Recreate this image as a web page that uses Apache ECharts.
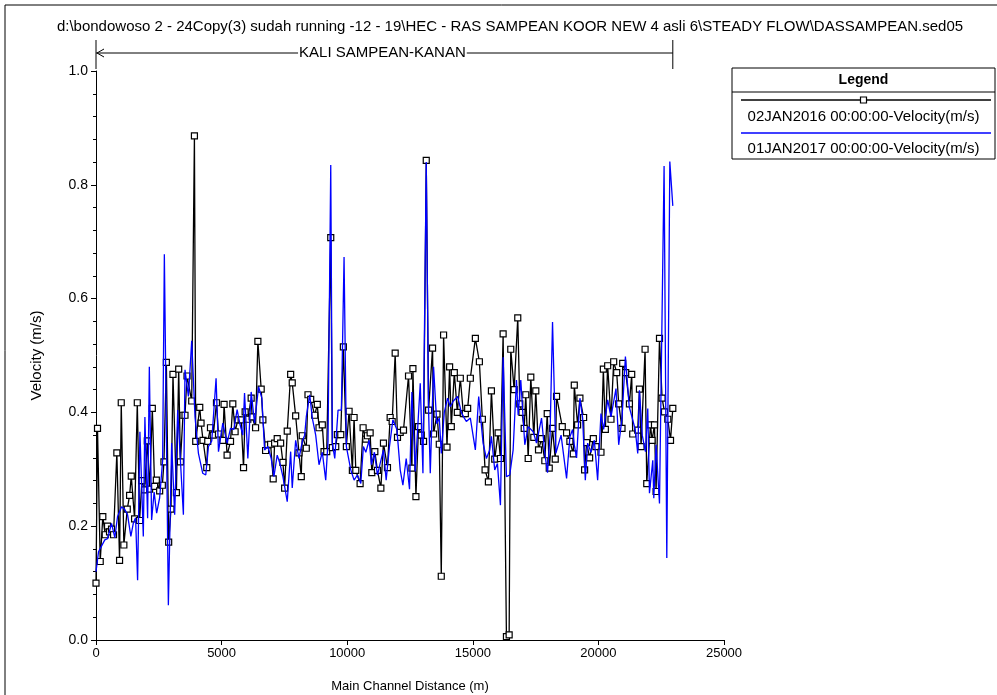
<!DOCTYPE html>
<html>
<head>
<meta charset="utf-8">
<script src="https://cdn.jsdelivr.net/npm/echarts@6/dist/echarts.min.js"></script>
<style>
  html, body { margin: 0; padding: 0; background: #fff; }
  #chart { width: 997px; height: 695px; }
</style>
</head>
<body>
<div id="chart"></div>
<script>
// Main channel distance (m) and velocity (m/s) for the two profiles
const distBlack = [0,60,168,271,367,459,538,618,698,830,938,1005,1109,1245,1337,1404,1536,1644,1736,1827,1935,2043,2135,2242,2334,2402,2534,2641,2705,2801,2893,2985,3064,3200,3292,3360,3463,3543,3623,3810,3918,3970,4130,4182,4261,4409,4449,4557,4668,4796,4876,5047,5099,5219,5355,5446,5538,5646,5778,5873,5937,6045,6177,6216,6352,6444,6576,6643,6751,6843,6951,7054,7110,7214,7350,7441,7509,7613,7749,7812,7948,8080,8172,8211,8371,8439,8547,8706,8810,8878,9009,9077,9185,9345,9408,9544,9608,9744,9847,9967,10075,10206,10274,10342,10514,10633,10741,10805,10913,10980,11100,11204,11340,11443,11603,11710,11790,11910,12002,12110,12241,12441,12576,12616,12736,12840,12947,13039,13147,13239,13398,13438,13574,13666,13745,13837,13973,14077,14144,14264,14384,14503,14623,14703,14795,14902,15102,15262,15381,15489,15621,15741,15873,16008,16100,16207,16339,16447,16511,16646,16790,16870,16958,17046,17109,17205,17309,17429,17508,17616,17736,17867,17963,18043,18174,18282,18334,18561,18733,18865,19000,19040,19172,19264,19411,19451,19531,19651,19798,19902,20102,20197,20277,20369,20501,20608,20728,20808,20940,20967,21087,21235,21326,21366,21566,21634,21698,21858,21925,22073,22137,22232,22296,22432,22535,22631,22763,22871,22962];
const velBlack = [0.100,0.372,0.138,0.217,0.185,0.200,0.190,0.195,0.185,0.329,0.140,0.417,0.167,0.230,0.254,0.288,0.213,0.417,0.210,0.280,0.264,0.350,0.265,0.407,0.270,0.281,0.262,0.272,0.313,0.488,0.172,0.230,0.467,0.259,0.476,0.313,0.395,0.395,0.464,0.420,0.886,0.349,0.409,0.381,0.351,0.303,0.349,0.373,0.360,0.417,0.362,0.351,0.414,0.325,0.349,0.415,0.366,0.387,0.387,0.303,0.401,0.388,0.425,0.392,0.373,0.525,0.441,0.387,0.333,0.343,0.344,0.283,0.346,0.354,0.346,0.312,0.267,0.367,0.467,0.452,0.394,0.329,0.287,0.359,0.337,0.431,0.423,0.395,0.414,0.373,0.378,0.331,0.331,0.707,0.338,0.340,0.361,0.361,0.515,0.340,0.402,0.298,0.391,0.298,0.275,0.373,0.353,0.359,0.364,0.294,0.331,0.298,0.267,0.346,0.303,0.391,0.384,0.504,0.356,0.365,0.369,0.464,0.302,0.477,0.252,0.375,0.360,0.349,0.843,0.404,0.513,0.362,0.397,0.344,0.112,0.536,0.339,0.480,0.375,0.470,0.400,0.460,0.398,0.398,0.407,0.460,0.530,0.489,0.388,0.299,0.278,0.438,0.318,0.364,0.319,0.538,0.006,0.009,0.511,0.440,0.566,0.415,0.400,0.372,0.431,0.319,0.462,0.356,0.438,0.334,0.354,0.315,0.398,0.302,0.372,0.318,0.428,0.375,0.364,0.349,0.327,0.448,0.378,0.425,0.391,0.299,0.347,0.320,0.354,0.340,0.330,0.476,0.370,0.482,0.388,0.489,0.470,0.415,0.372,0.486,0.470,0.415,0.467,0.362,0.369,0.441,0.340,0.511,0.275,0.378,0.351,0.378,0.261,0.530,0.425,0.401,0.388,0.351,0.407];

const distBlue = [0,100,219,351,459,538,618,750,858,1017,1137,1257,1388,1484,1576,1656,1748,1883,1947,2055,2123,2214,2314,2414,2534,2653,2721,2881,3012,3132,3252,3411,3479,3543,3679,3810,3942,4078,4249,4369,4477,4608,4780,4876,5047,5219,5355,5486,5618,5726,5845,5913,6045,6177,6312,6472,6603,6711,6843,6975,7082,7214,7322,7441,7613,7749,7812,7948,8080,8219,8307,8371,8507,8611,8746,8878,9009,9145,9237,9345,9408,9505,9636,9768,9875,9967,10142,10274,10406,10541,10645,10741,10873,10964,11084,11204,11311,11443,11551,11683,11818,11978,12110,12217,12349,12481,12576,12708,12908,13015,13147,13239,13307,13438,13566,13666,13745,13865,13997,14104,14224,14396,14543,14663,14743,14902,15102,15234,15409,15541,15673,15741,15873,15981,16100,16207,16339,16471,16606,16738,16806,16910,17070,17205,17405,17536,17736,17867,17975,18075,18174,18306,18514,18733,18865,18972,19040,19132,19264,19372,19479,19571,19703,19838,19970,20102,20209,20369,20501,20700,20808,20940,21075,21227,21366,21466,21566,21634,21745,21873,21965,22033,22165,22205,22296,22432,22615,22723,22843,22962];
const velBlue = [0.120,0.155,0.165,0.176,0.178,0.175,0.205,0.180,0.217,0.234,0.230,0.220,0.182,0.205,0.215,0.105,0.366,0.182,0.392,0.214,0.480,0.211,0.260,0.223,0.250,0.316,0.678,0.061,0.346,0.220,0.404,0.275,0.220,0.475,0.428,0.526,0.392,0.328,0.293,0.290,0.340,0.350,0.460,0.331,0.381,0.346,0.372,0.370,0.405,0.380,0.360,0.434,0.319,0.436,0.381,0.445,0.425,0.334,0.340,0.319,0.287,0.325,0.310,0.287,0.243,0.331,0.267,0.351,0.319,0.350,0.360,0.392,0.431,0.390,0.360,0.308,0.330,0.281,0.350,0.835,0.346,0.319,0.404,0.404,0.673,0.340,0.299,0.281,0.290,0.275,0.340,0.330,0.351,0.308,0.330,0.290,0.310,0.334,0.281,0.340,0.387,0.370,0.299,0.272,0.319,0.265,0.436,0.296,0.451,0.293,0.840,0.404,0.293,0.480,0.380,0.390,0.328,0.400,0.425,0.410,0.420,0.428,0.400,0.390,0.384,0.390,0.334,0.428,0.346,0.319,0.334,0.358,0.299,0.310,0.237,0.497,0.287,0.290,0.334,0.457,0.395,0.457,0.343,0.375,0.366,0.346,0.390,0.328,0.294,0.360,0.559,0.328,0.360,0.284,0.357,0.370,0.343,0.320,0.425,0.390,0.281,0.346,0.330,0.351,0.281,0.398,0.370,0.422,0.392,0.442,0.343,0.390,0.498,0.410,0.387,0.370,0.328,0.439,0.360,0.331,0.407,0.258,0.316,0.249,0.343,0.240,0.833,0.144,0.841,0.763];

const seriesNames = ['02JAN2016 00:00:00-Velocity(m/s)', '01JAN2017 00:00:00-Velocity(m/s)'];
const reachName = 'KALI SAMPEAN-KANAN';
const fileTitle = 'd:\\bondowoso 2 - 24Copy(3) sudah running -12 - 19\\HEC - RAS SAMPEAN KOOR NEW 4 asli 6\\STEADY FLOW\\DASSAMPEAN.sed05';
const xAxisName = 'Main Channel Distance (m)';
const yAxisName = 'Velocity (m/s)';
const xMin = 0, xMax = 25000, xStep = 5000;
const yMin = 0, yMax = 1.0, yStep = 0.2;

const FONT = '"Liberation Sans", Arial, sans-serif';
const pairs = (xs, ys) => xs.map((x, i) => [x, ys[i]]);

const chart = echarts.init(document.getElementById('chart'), null, { renderer: 'canvas' });

const axisCommon = {
  axisLine: { show: true, lineStyle: { color: '#000', width: 1 } },
  axisTick: { show: true, inside: false, length: 5, lineStyle: { color: '#000' } },
  splitLine: { show: false }
};

chart.setOption({
  animation: false,
  backgroundColor: '#fff',
  grid: { left: 96, right: 273, top: 71, bottom: 55, outerBoundsMode: 'none', containLabel: false },
  xAxis: Object.assign({}, axisCommon, {
    type: 'value', min: xMin, max: xMax, interval: xStep,
    name: xAxisName, nameLocation: 'middle', nameGap: 40,
    nameTextStyle: { color: '#000', fontFamily: FONT, fontSize: 13 },
    axisLabel: { color: '#000', fontFamily: FONT, fontSize: 13, margin: 7,
      formatter: v => String(v) }
  }),
  yAxis: Object.assign({}, axisCommon, {
    type: 'value', min: yMin, max: yMax, interval: yStep,
    name: yAxisName, nameLocation: 'middle', nameGap: 52,
    nameTextStyle: { color: '#000', fontFamily: FONT, fontSize: 15 },
    minorTick: { show: true, splitNumber: 5, length: 3, lineStyle: { color: '#000' } },
    axisLabel: { color: '#000', fontFamily: FONT, fontSize: 14, margin: 8,
      formatter: v => v.toFixed(1) }
  }),
  series: [
    {
      name: seriesNames[0], type: 'line', data: pairs(distBlack, velBlack),
      symbol: 'rect', symbolSize: 6, showAllSymbol: true,
      lineStyle: { color: '#000', width: 1.3 },
      itemStyle: { color: '#fff', borderColor: '#000', borderWidth: 1.2 },
      z: 2
    },
    {
      name: seriesNames[1], type: 'line', data: pairs(distBlue, velBlue),
      showSymbol: false, symbol: 'none',
      lineStyle: { color: '#0000ff', width: 1.3 },
      z: 3
    }
  ]
});

// Reach annotation and legend box, placed from the axis scale
const xLeft = chart.convertToPixel({ xAxisIndex: 0 }, distBlack[0]);
const xRight = chart.convertToPixel({ xAxisIndex: 0 }, distBlack[distBlack.length - 1]);
const reachY = 53;
const lg = { x: 732, y: 68, w: 263, h: 91 };

chart.setOption({
  graphic: [
    { type: 'rect', shape: { x: 5, y: 5, width: 1200, height: 900 }, style: { fill: 'none', stroke: '#000', lineWidth: 1 }, silent: true },
    { type: 'text', x: 510, y: 27, style: { text: fileTitle, font: '15px ' + FONT, fill: '#000', align: 'center', verticalAlign: 'middle' } },
    { type: 'line', shape: { x1: xLeft, y1: 40, x2: xLeft, y2: 69 }, style: { stroke: '#000', lineWidth: 1 } },
    { type: 'line', shape: { x1: xRight, y1: 40, x2: xRight, y2: 69 }, style: { stroke: '#000', lineWidth: 1 } },
    { type: 'line', shape: { x1: xLeft, y1: reachY, x2: xRight, y2: reachY }, style: { stroke: '#000', lineWidth: 1 } },
    { type: 'polyline', shape: { points: [[xLeft + 8, reachY - 4], [xLeft + 1, reachY], [xLeft + 8, reachY + 4]] }, style: { stroke: '#000', fill: 'none', lineWidth: 1 } },
    { type: 'text', x: (xLeft + xRight) / 2 - 2, y: reachY, z: 10, style: { text: reachName, font: '15px ' + FONT, fill: '#000', align: 'center', verticalAlign: 'middle', backgroundColor: '#fff', padding: [0, 1] } },
    // legend
    { type: 'rect', shape: { x: lg.x, y: lg.y, width: lg.w, height: lg.h }, style: { fill: '#fff', stroke: '#000', lineWidth: 1 } },
    { type: 'text', x: lg.x + lg.w / 2, y: lg.y + 12, style: { text: 'Legend', font: 'bold 14px ' + FONT, fill: '#000', align: 'center', verticalAlign: 'middle' } },
    { type: 'line', shape: { x1: lg.x, y1: lg.y + 24, x2: lg.x + lg.w, y2: lg.y + 24 }, style: { stroke: '#000', lineWidth: 1 } },
    { type: 'line', shape: { x1: lg.x + 9, y1: lg.y + 32, x2: lg.x + lg.w - 4, y2: lg.y + 32 }, style: { stroke: '#000', lineWidth: 1.3 } },
    { type: 'rect', shape: { x: lg.x + lg.w / 2 - 3, y: lg.y + 29, width: 6, height: 6 }, style: { fill: '#fff', stroke: '#000', lineWidth: 1.2 } },
    { type: 'text', x: lg.x + lg.w / 2, y: lg.y + 49, style: { text: seriesNames[0], font: '15px ' + FONT, fill: '#000', align: 'center', verticalAlign: 'middle' } },
    { type: 'line', shape: { x1: lg.x + 9, y1: lg.y + 65, x2: lg.x + lg.w - 4, y2: lg.y + 65 }, style: { stroke: '#0000ff', lineWidth: 1.3 } },
    { type: 'text', x: lg.x + lg.w / 2, y: lg.y + 81, style: { text: seriesNames[1], font: '15px ' + FONT, fill: '#000', align: 'center', verticalAlign: 'middle' } }
  ]
});
</script>
</body>
</html>
